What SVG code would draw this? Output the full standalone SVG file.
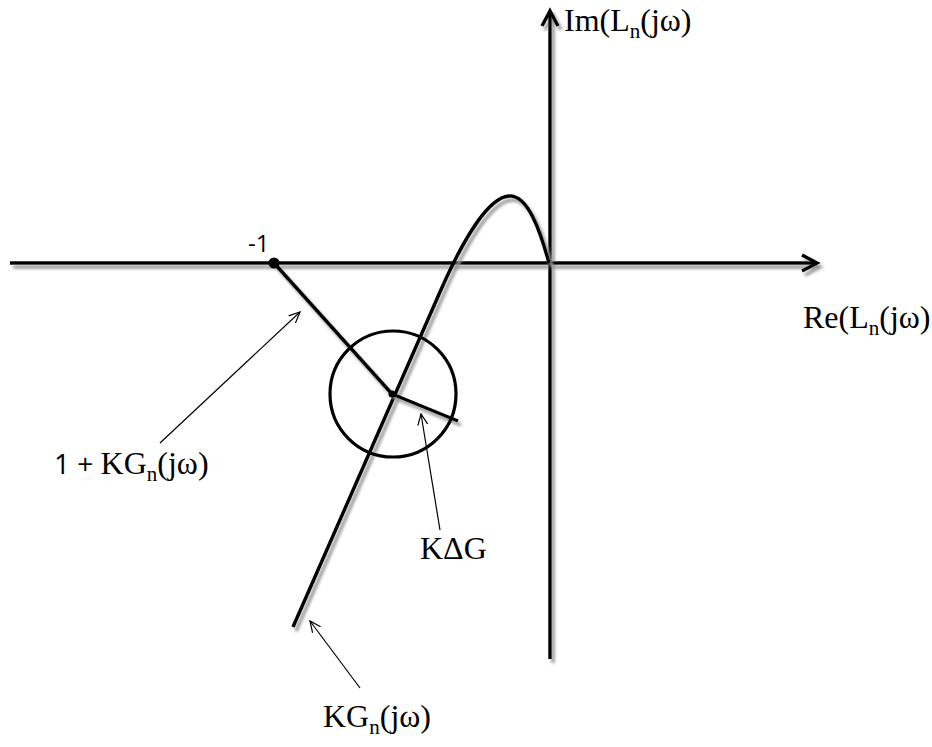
<svg xmlns="http://www.w3.org/2000/svg" width="932" height="747" viewBox="0 0 932 747">
<style>
.thick{fill:none;stroke:#000;stroke-width:3.5;stroke-linecap:butt;stroke-linejoin:miter}
.thin{fill:none;stroke:#000;stroke-width:1.2}
.tnr{font-family:"Liberation Serif","Times New Roman",serif;font-size:32px;fill:#000}
.sub{font-size:21px}
.sans{font-family:"Open Sans","Liberation Sans",sans-serif;font-size:24px;fill:#000}
</style>
<defs>
<filter id="sh" x="-10%" y="-10%" width="120%" height="120%">
<feDropShadow dx="3" dy="4" stdDeviation="1.5" flood-color="#999" flood-opacity="1"/>
</filter>
<marker id="open" viewBox="0 0 12 12" refX="11" refY="6" markerWidth="12" markerHeight="12" markerUnits="userSpaceOnUse" orient="auto">
<path d="M0,1 L11,6 L0,11" fill="none" stroke="#000" stroke-width="1.2"/>
</marker>
</defs>
<g id="axes" filter="url(#sh)">
<path class="thick" d="M10,263 L816,263"/>
<path class="thick" d="M802,255 L817,263 L802,271"/>
<path class="thick" d="M550,659 L550,12"/>
<path class="thick" d="M542,26 L550,11 L558,26"/>
</g>
<g id="curve" filter="url(#sh)">
<path class="thick" d="M293,627 L440,292 C465,235 490,196 510,196 C528,196 540,230 549,263"/>
</g>
<g id="vector" filter="url(#sh)">
<path class="thick" d="M274,263 L392,394"/>
<path class="thick" d="M392,394 L458,421"/>
</g>
<g id="point">
<circle cx="274" cy="263" r="5.5" fill="#000"/>
<circle cx="392" cy="394" r="3.5" fill="#000"/>
</g>
<g id="circle">
<circle cx="393" cy="394" r="63" fill="none" stroke="#000" stroke-width="3.2"/>
</g>
<g id="connectors">
<line class="thin" x1="160" y1="443" x2="300" y2="312" marker-end="url(#open)"/>
<line class="thin" x1="440" y1="530" x2="421" y2="414" marker-end="url(#open)"/>
<line class="thin" x1="360" y1="688" x2="310" y2="621" marker-end="url(#open)"/>
</g>
<g id="labels">
<text class="tnr" x="564" y="31">Im(L<tspan class="sub" dy="7">n</tspan><tspan dy="-7">(jω)</tspan></text>
<text class="tnr" x="803" y="328">Re(L<tspan class="sub" dy="7">n</tspan><tspan dy="-7">(jω)</tspan></text>
<text class="sans" x="248" y="252">-1</text>
<text class="tnr" x="54" y="474"><tspan style="font-family:'Open Sans','Liberation Sans',sans-serif;font-size:28px">1 + </tspan>KG<tspan class="sub" dy="7">n</tspan><tspan dy="-7">(jω)</tspan></text>
<text class="tnr" x="420" y="559">KΔG</text>
<text class="tnr" x="323" y="727">KG<tspan class="sub" dy="7">n</tspan><tspan dy="-7">(jω)</tspan></text>
</g>
</svg>
